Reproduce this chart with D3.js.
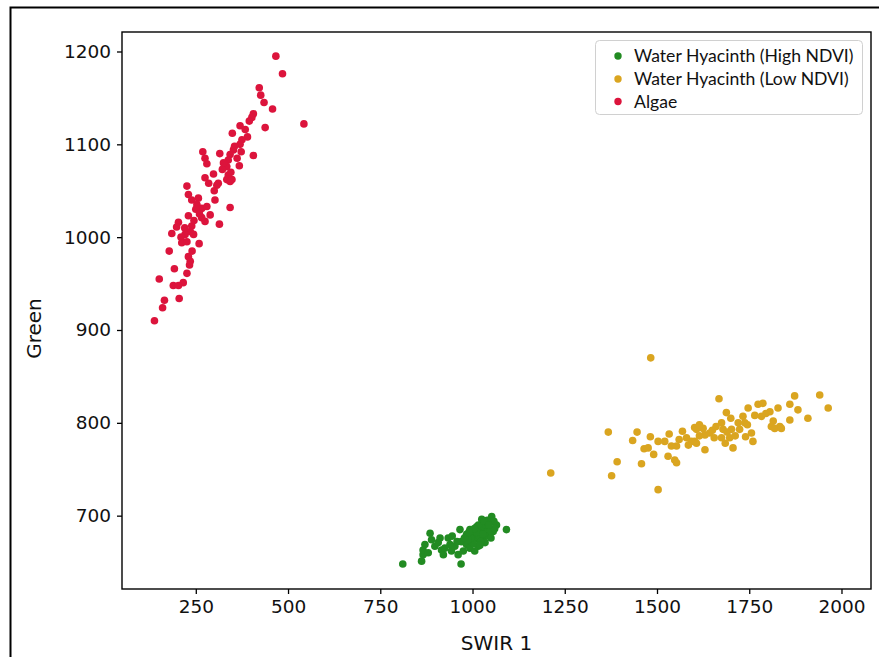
<!DOCTYPE html>
<html>
<head>
<meta charset="utf-8">
<script src="https://cdn.jsdelivr.net/npm/d3@7/dist/d3.min.js"></script>
<style>
  html, body { margin: 0; padding: 0; background: #fff; }
  svg { display: block; }
</style>
</head>
<body>
<svg id="chart" width="879" height="657"></svg>
<script>
// Axis ticks
const xTicks = [250, 500, 750, 1000, 1250, 1500, 1750, 2000];
const yTicks = [700, 800, 900, 1000, 1100, 1200];

// Series names and colours
const seriesNames = ["Water Hyacinth (High NDVI)", "Water Hyacinth (Low NDVI)", "Algae"];
const seriesColors = ["#228B22", "#DAA520", "#DC143C"];

// [SWIR 1, Green] samples
const hyacinthHigh = [
  [811,648],[862,651],[866,658],[871,669],[885,681],[889,674],[898,667],[907,671],
  [912,676],[916,663],[921,658],[934,676],[939,669],[943,662],[952,667],[961,658],
  [969,648],[966,685],[970,672],[975,662],[984,680],[984,669],[993,685],[993,665],
  [998,672],[1006,678],[1006,662],[1011,688],[1015,667],[1020,683],[1025,696],[1029,676],
  [1034,671],[1047,692],[1052,699],[1056,683],[1065,690],[1092,685],[866,663],
  [1000,680],[1010,675],[1018,678],[1025,684],[1030,688],[1038,682],[1042,686],[1045,678],
  [1035,690],[1040,695],[1012,682],[1002,670],[995,676],[988,674],[1022,672],[1028,680],
  [1048,684],[1060,686],[1050,676],[1016,690],[978,676],[958,672],[945,678],[925,665],
  [880,660],[1005,686],[1032,694],[1058,694],[1020,668],[990,682],[1044,690]
];
const hyacinthLow = [
  [1483,870],[1212,746],[1368,790],[1377,743],[1392,758],[1434,781],[1446,790],[1458,756],
  [1465,772],[1476,773],[1482,785],[1491,766],[1503,728],[1503,780],[1521,780],[1533,788],
  [1530,764],[1539,775],[1548,760],[1553,757],[1553,775],[1569,791],[1580,784],[1593,780],
  [1602,795],[1607,778],[1668,826],[1688,811],[1607,793],[1625,794],[1602,780],[1630,787],
  [1643,789],[1630,771],[1675,800],[1679,793],[1675,784],[1697,784],[1706,773],[1702,793],
  [1724,793],[1733,807],[1747,816],[1738,800],[1756,789],[1760,780],[1774,820],[1787,821],
  [1783,807],[1806,812],[1815,802],[1810,796],[1828,816],[1860,803],[1860,820],[1873,829],
  [1882,814],[1909,805],[1941,830],[1964,816],[1833,796],[1819,794],[1837,794],
  [1615,786],[1650,792],[1660,796],[1690,790],[1712,786],[1720,800],[1745,798],[1765,808],
  [1795,810],[1585,776],[1560,782],[1615,798],[1700,805],[1685,778],[1740,785],[1655,784]
];
const algae = [
  [467,1195],[485,1176],[543,1122],[422,1161],[426,1153],[435,1145],[458,1138],[406,1133],
  [402,1129],[438,1118],[349,1112],[370,1120],[384,1116],[390,1108],[375,1105],[370,1100],
  [373,1092],[352,1094],[343,1089],[338,1083],[406,1088],[269,1092],[275,1085],[280,1079],
  [368,1077],[334,1076],[322,1073],[298,1068],[275,1064],[338,1067],[334,1062],[348,1062],
  [311,1058],[226,1055],[307,1056],[343,1060],[230,1046],[239,1040],[257,1042],[302,1040],
  [343,1032],[253,1035],[266,1031],[280,1033],[289,1024],[230,1023],[266,1021],[275,1017],
  [314,1014],[203,1016],[198,1011],[185,1004],[239,1012],[235,1006],[221,1003],[244,1003],
  [212,994],[226,995],[259,993],[178,985],[230,979],[235,974],[233,970],[192,966],
  [226,961],[151,955],[216,951],[189,948],[203,948],[205,934],[165,932],[160,924],[138,910],
  [355,1098],[362,1085],[345,1070],[325,1080],[300,1050],[250,1030],[245,1018],[220,1010],
  [260,1025],[315,1090],[395,1125],[285,1058],[240,985],[210,1000]
];
const seriesData = [hyacinthHigh, hyacinthLow, algae];

const svg = d3.select("#chart");
const W = 879, H = 657;

// Plot frame
const plot = { left: 122, right: 871, top: 32, bottom: 589 };

const x = d3.scaleLinear().domain([50, 2080]).range([plot.left, plot.right]);
const y = d3.scaleLinear().domain([621, 1221]).range([plot.bottom, plot.top]);

// Figure border
svg.append("rect")
  .attr("x", 10.5).attr("y", 7.5)
  .attr("width", W + 20).attr("height", H + 20)
  .attr("fill", "none").attr("stroke", "#000").attr("stroke-width", 2);

// Points
seriesData.forEach((pts, i) => {
  svg.append("g").selectAll("circle")
    .data(pts)
    .join("circle")
    .attr("cx", d => x(d[0]))
    .attr("cy", d => y(d[1]))
    .attr("r", 3.8)
    .attr("fill", seriesColors[i]);
});

// Axes
const tickFont = "'DejaVu Sans', sans-serif";
const fmt = d3.format("d");
const xAxis = svg.append("g")
  .attr("transform", `translate(0,${plot.bottom})`)
  .call(d3.axisBottom(x).tickValues(xTicks).tickFormat(fmt).tickSize(5).tickPadding(6).tickSizeOuter(0));
const yAxis = svg.append("g")
  .attr("transform", `translate(${plot.left},0)`)
  .call(d3.axisLeft(y).tickValues(yTicks).tickFormat(fmt).tickSize(5).tickPadding(6).tickSizeOuter(0));

[xAxis, yAxis].forEach(g => {
  g.select(".domain").remove();
  g.selectAll(".tick line").attr("stroke", "#000").attr("stroke-width", 1.3);
  g.selectAll(".tick text")
    .attr("fill", "#111")
    .style("font-family", tickFont)
    .style("font-size", "18.5px");
});

// Spines
svg.append("rect")
  .attr("x", plot.left).attr("y", plot.top)
  .attr("width", plot.right - plot.left).attr("height", plot.bottom - plot.top)
  .attr("fill", "none").attr("stroke", "#000").attr("stroke-width", 1.4);

// Axis titles
svg.append("text")
  .attr("x", (plot.left + plot.right) / 2).attr("y", 650)
  .attr("text-anchor", "middle")
  .style("font-family", tickFont).style("font-size", "20px").attr("fill", "#111")
  .text("SWIR 1");

svg.append("text")
  .attr("transform", `translate(41,${(plot.top + plot.bottom) / 2 + 18}) rotate(-90)`)
  .attr("text-anchor", "middle")
  .style("font-family", tickFont).style("font-size", "20px").attr("fill", "#111")
  .text("Green");

// Legend
const legend = svg.append("g");
legend.append("rect")
  .attr("x", 595.5).attr("y", 40.5).attr("width", 267).attr("height", 74).attr("rx", 4)
  .attr("fill", "#fff").attr("fill-opacity", 0.85)
  .attr("stroke", "#d0d0d0").attr("stroke-width", 1);
const rows = [56, 79, 101.5];
seriesNames.forEach((name, i) => {
  legend.append("circle")
    .attr("cx", 618).attr("cy", rows[i]).attr("r", 3.7)
    .attr("fill", seriesColors[i]);
  legend.append("text")
    .attr("x", 634).attr("y", rows[i]).attr("dy", "0.35em")
    .style("font-family", "Lato, sans-serif").style("font-size", "17.6px").attr("fill", "#111")
    .text(name);
});
</script>
</body>
</html>
